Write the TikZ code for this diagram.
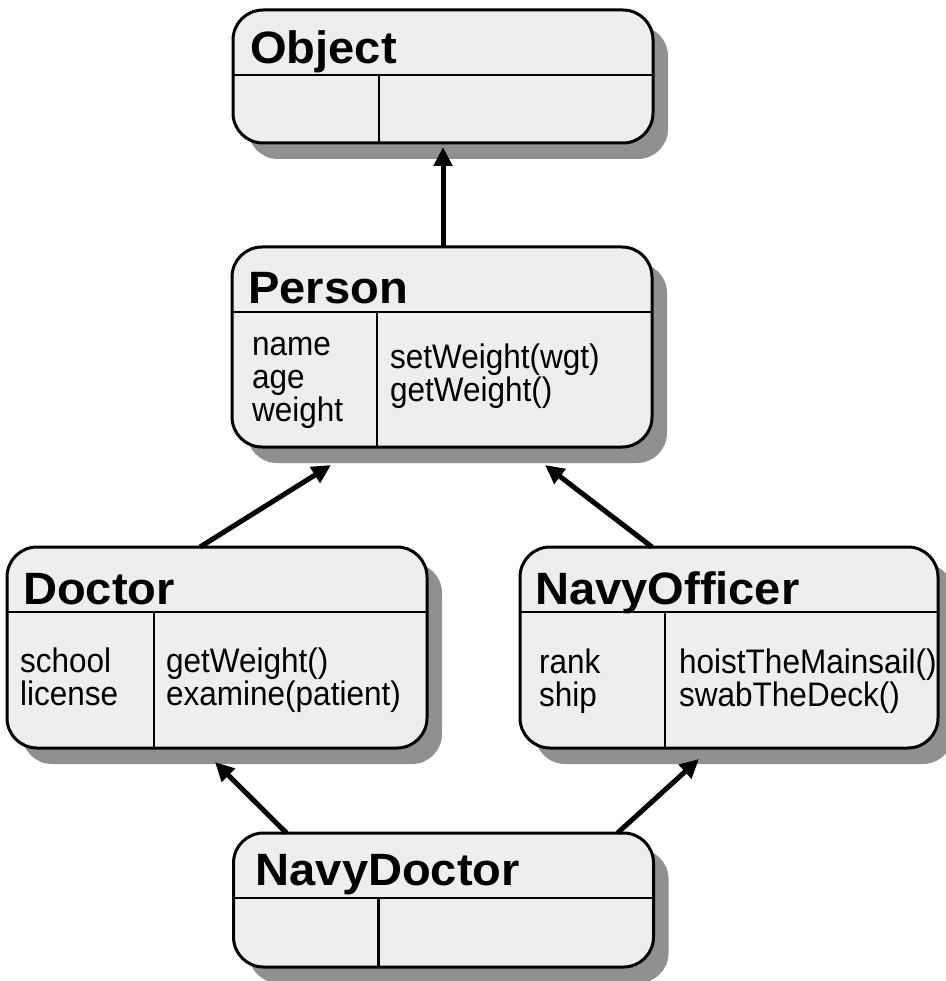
\documentclass[tikz,border=0pt]{standalone}
\usepackage{fontspec}
\setmainfont{Liberation Sans}
\usetikzlibrary{calc,shadows,arrows.meta}

\definecolor{boxfill}{HTML}{EEEEEE}
\definecolor{shade}{HTML}{909090}

% class name and member list typesetting
\newcommand\clsfont{\fontsize{44}{44}\selectfont\bfseries}
\newcommand\mbrfont{\fontsize{31.5}{31}\selectfont}
\newcommand\classname[1]{\scalebox{1.07}[1.03]{\clsfont #1}}
\newcommand\memberlist[1]{\scalebox{1}[1.08]{\mbrfont\vtop{#1}}}

\tikzset{
  classbox/.style={draw, line width=3pt, fill=boxfill, rounded corners=30pt,
    inner sep=0pt, outer sep=0pt, minimum width=420pt,
    drop shadow={shadow xshift=15pt, shadow yshift=-16pt, opacity=1, fill=shade}},
  divider/.style={line width=2.5pt},
  label/.style={anchor=base west, inner sep=0pt},
  inherit/.style={line width=5pt, -{Triangle[length=19pt,width=18pt]}}
}

\begin{document}
\begin{tikzpicture}[x=1pt, y=-1pt]
\useasboundingbox (0,0) rectangle (945,981);

% class boxes
\node[classbox, minimum height=133pt] (object) at (443,76.5) {};
\node[classbox, minimum height=200pt] (person) at (442,347) {};
\node[classbox, minimum height=201pt] (doctor) at (217,647.5) {};
\node[classbox, minimum width=418pt, minimum height=201pt] (officer) at (729,647.5) {};
\node[classbox, minimum height=134pt] (navydoc) at (443.5,900) {};

% compartments: name / attributes | operations
\foreach \b/\c in {object/146, person/145, doctor/147, officer/145, navydoc/145} {
  \draw[divider] ($(\b.north west)+(0,65)$) -- ($(\b.north east)+(0,65)$);
  \draw[divider] ($(\b.north west)+(\c,65)$) -- ($(\b.south west)+(\c,0)$);
}

% class names
\node[label] (object-name)  at ($(object.north west)+(17,54)$)  {\classname{Object}};
\node[label] (person-name)  at ($(person.north west)+(16,56)$)  {\classname{Person}};
\node[label] (doctor-name)  at ($(doctor.north west)+(16,57)$)  {\classname{Doctor}};
\node[label] (officer-name) at ($(officer.north west)+(15,57)$) {\classname{NavyOfficer}};
\node[label] (navydoc-name) at ($(navydoc.north west)+(22,52)$) {\classname{NavyDoctor}};

% attributes and operations
\node[label] (person-attrs) at ($(person.north west)+(20,108)$)
  {\memberlist{\hbox{name}\hbox{age}\hbox{weight}}};
\node[label] (person-ops) at ($(person.north west)+(158,121)$)
  {\memberlist{\hbox{setWeight(wgt)}\hbox{getWeight()}}};
\node[label] (doctor-attrs) at ($(doctor.north west)+(13,125)$)
  {\memberlist{\hbox{school}\hbox{license}}};
\node[label] (doctor-ops) at ($(doctor.north west)+(159,125)$)
  {\memberlist{\hbox{getWeight()}\hbox{examine(patient)}}};
\node[label] (officer-attrs) at ($(officer.north west)+(19,126)$)
  {\memberlist{\hbox{rank}\hbox{ship}}};
\node[label] (officer-ops) at ($(officer.north west)+(159,126)$)
  {\memberlist{\hbox{hoistTheMainsail()}\hbox{swabTheDeck()}}};

% inheritance arrows
\draw[inherit] (person.north -| object.south) -- ($(object.south)+(0,4)$);
\draw[inherit] ($(doctor.north west)+(193,0)$) -- ($(person.south west)+(99,18)$);
\draw[inherit] ($(officer.north west)+(132,0)$) -- ($(person.south west)+(313,18)$);
\draw[inherit] ($(navydoc.north west)+(53,0)$) -- ($(doctor.south west)+(208,14)$);
\draw[inherit] ($(navydoc.north west)+(384,0)$) -- ($(officer.south west)+(179,11)$);
\end{tikzpicture}
\end{document}
